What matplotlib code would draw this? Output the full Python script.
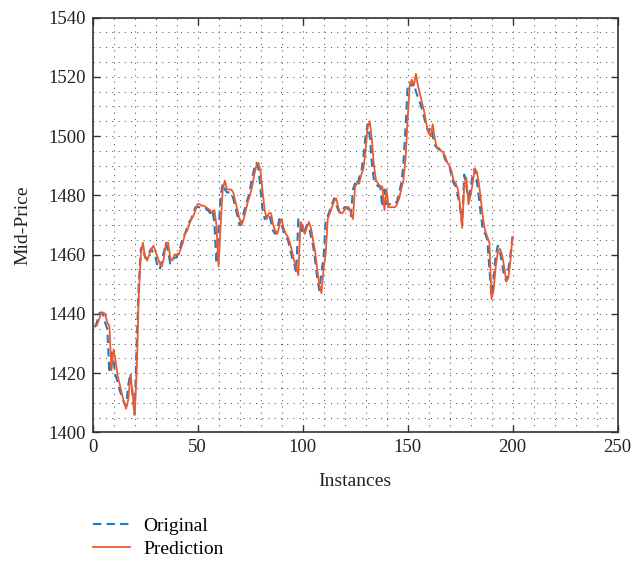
import matplotlib
matplotlib.use("Agg")
import matplotlib.pyplot as plt
from matplotlib.ticker import MultipleLocator

plt.rcParams['font.family'] = ['Liberation Serif', 'DejaVu Serif']

original = [
    1435.5, 1437, 1440, 1440.5, 1440, 1437, 1435, 1420, 1427, 1424,
    1419, 1417, 1414, 1412, 1410, 1409, 1416, 1420, 1413, 1406,
    1430, 1450, 1462, 1463, 1459, 1459, 1461, 1462, 1460, 1459,
    1456, 1455, 1458, 1461, 1464, 1461, 1457, 1458, 1459, 1459,
    1461, 1463, 1466, 1467, 1469, 1471, 1472, 1474, 1476, 1476,
    1476, 1476, 1476, 1475.5, 1475, 1474, 1475, 1471, 1457, 1468,
    1480, 1484, 1482, 1481, 1481, 1481, 1479, 1476, 1473, 1470,
    1471, 1474, 1477, 1479, 1482, 1486, 1489, 1491, 1489, 1482,
    1475, 1472, 1473, 1474, 1471, 1468, 1467, 1469, 1472, 1470,
    1468, 1466, 1465, 1462, 1459, 1457, 1454, 1472, 1471, 1467,
    1468, 1470, 1470, 1466, 1463, 1458, 1452, 1448, 1454, 1459,
    1471, 1473, 1475, 1477, 1479, 1477, 1475, 1474, 1475, 1476,
    1476, 1475, 1473, 1482, 1484, 1483, 1486, 1488, 1493, 1500,
    1504, 1500, 1491, 1485, 1484, 1483, 1483, 1476, 1482, 1477,
    1477, 1477, 1477, 1477, 1478, 1481, 1484, 1490, 1502, 1516,
    1518, 1517, 1518, 1515, 1513, 1511, 1509, 1506, 1503, 1501.5,
    1503, 1500, 1497, 1496, 1495.5, 1495, 1494, 1492, 1491, 1490,
    1486, 1484, 1483, 1480, 1476, 1470, 1487, 1483, 1479, 1482,
    1487, 1489, 1485, 1479, 1473, 1468, 1467, 1465, 1455, 1446,
    1452, 1460, 1463, 1461, 1457, 1453, 1451, 1455, 1460, 1466,
]

prediction = [
    1436, 1436, 1438, 1440, 1440.5, 1440, 1437, 1436, 1421, 1428,
    1424, 1419, 1416, 1413, 1410, 1408, 1411, 1419, 1414, 1406,
    1420, 1446, 1460, 1464, 1459, 1458, 1460, 1462, 1463, 1461,
    1459, 1457, 1456, 1459, 1464, 1464, 1459, 1458, 1460, 1460,
    1460, 1462, 1464, 1467, 1468, 1470, 1472, 1473, 1475, 1477,
    1477, 1476.5, 1476.5, 1476, 1475.5, 1475, 1474, 1475, 1470, 1456,
    1470, 1482, 1485, 1482, 1482, 1482, 1481, 1478, 1475, 1472,
    1470, 1472, 1475, 1478, 1480, 1483, 1487, 1490, 1491, 1488,
    1481, 1475, 1472, 1474, 1474, 1470, 1468, 1467, 1470, 1472,
    1469, 1467, 1466, 1464, 1461, 1458, 1456, 1453, 1471, 1470,
    1467, 1469, 1471, 1469, 1465, 1461, 1455, 1450, 1447, 1455,
    1460, 1472, 1474, 1476, 1478, 1479, 1476, 1474, 1474, 1475,
    1476, 1476, 1474, 1472, 1483, 1484, 1484, 1487, 1489, 1495,
    1503, 1505, 1499, 1490, 1485, 1484, 1483, 1483, 1475, 1482,
    1476, 1476, 1476, 1476, 1477, 1479, 1482, 1485, 1492, 1505,
    1517, 1519, 1517, 1521, 1517, 1514, 1511, 1508, 1504, 1501,
    1500, 1504, 1499, 1496, 1496, 1495, 1494.5, 1493, 1491, 1490,
    1488, 1485, 1484, 1482, 1477, 1469, 1483, 1486, 1477, 1480,
    1484, 1489, 1488, 1484, 1478, 1472, 1468, 1466, 1464, 1445,
    1448, 1456, 1461, 1462, 1460, 1456, 1451, 1452, 1458, 1466,
]

instances = list(range(1, len(original) + 1))

fig = plt.figure(figsize=(6.34, 5.66), dpi=100)
ax = fig.add_axes([0.146, 0.236, 0.828, 0.733])

l1, = ax.plot(instances, original, linestyle='--', color='#1f7bc4', linewidth=1.5,
              dashes=(4, 2.5), label='Original', zorder=3)
l2, = ax.plot(instances, prediction, linestyle='-', color='#f2582a', linewidth=1.3,
              label='Prediction', zorder=4)

ax.set_xlim(0, 250)
ax.set_ylim(1400, 1540)
ax.xaxis.set_major_locator(MultipleLocator(50))
ax.yaxis.set_major_locator(MultipleLocator(20))
ax.xaxis.set_minor_locator(MultipleLocator(10))
ax.yaxis.set_minor_locator(MultipleLocator(5))

ax.grid(which='both', axis='both', color='#555555', linestyle=(0, (1, 5)), linewidth=0.75)
ax.tick_params(which='major', direction='in', top=True, right=True, length=5,
               width=1, colors='#333333', labelsize=13.5, labelcolor='#222222', pad=5)
ax.tick_params(which='minor', length=0)
for s in ax.spines.values():
    s.set_color('#333333')
    s.set_linewidth(1.2)

ax.set_xlabel('Instances', fontsize=14, color='#222222', labelpad=12)
ax.set_ylabel('Mid-Price', fontsize=14, color='#222222', labelpad=12)

fig.legend(handles=[l1, l2], loc='upper left', bbox_to_anchor=(0.134, 0.1),
           frameon=False, fontsize=14, handlelength=1.9, handletextpad=0.7,
           labelspacing=0.3, borderaxespad=0)

fig.savefig('out.png', dpi=100)
